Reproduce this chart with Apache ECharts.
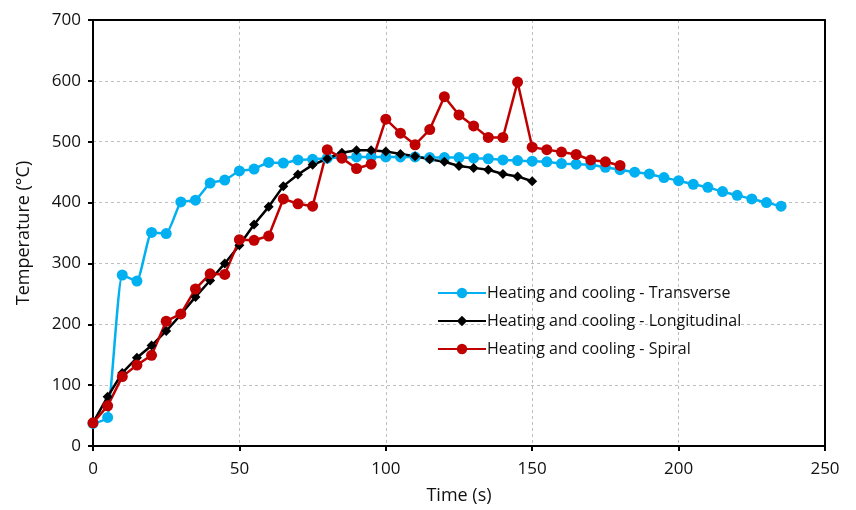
<!DOCTYPE html>
<html>
<head>
<meta charset="utf-8">
<script src="https://cdn.jsdelivr.net/npm/echarts@6/dist/echarts.min.js"></script>
<style>
html,body{margin:0;padding:0;background:#fff;}
#c{width:856px;height:510px;}
</style>
</head>
<body>
<div id="c"></div>
<script>
var timeTransverse = [0,5,10,15,20,25,30,35,40,45,50,55,60,65,70,75,80,85,90,95,100,105,110,115,120,125,130,135,140,145,150,155,160,165,170,175,180,185,190,195,200,205,210,215,220,225,230,235];
var tempTransverse = [37,47,281,271,351,349,401,404,432,437,452,455,466,465,470,471,473,474,475,475,475,475,475,474,474,474,473,472,470,469,468,467,464,463,462,458,454,450,447,441,436,430,425,418,412,406,400,394];
var timeLongitudinal = [0,5,10,15,20,25,30,35,40,45,50,55,60,65,70,75,80,85,90,95,100,105,110,115,120,125,130,135,140,145,150];
var tempLongitudinal = [38,81,120,145,165,189,216,245,272,300,330,364,393,427,446,462,472,482,486,486,484,480,476,471,467,460,457,454,447,443,435];
var timeSpiral = [0,5,10,15,20,25,30,35,40,45,50,55,60,65,70,75,80,85,90,95,100,105,110,115,120,125,130,135,140,145,150,155,160,165,170,175,180];
var tempSpiral = [38,66,114,133,149,205,217,258,283,282,339,338,345,406,398,394,487,473,456,463,537,514,495,520,574,544,526,507,507,598,491,487,483,479,470,467,461];
var seriesNames = ['Heating and cooling - Transverse','Heating and cooling - Longitudinal','Heating and cooling - Spiral'];
var xTitle = 'Time (s)';
var yTitle = 'Temperature (°C)';

function pairs(xs, ys){ return xs.map(function(x,i){ return [x, ys[i]]; }); }

var font = 'Open Sans, Liberation Sans, sans-serif';
var txt = '#111';
var chart = echarts.init(document.getElementById('c'), null, {renderer:'canvas'});
var frameAxis = {
  axisLine:{show:true,onZero:false,lineStyle:{color:'#000',width:2}},
  axisTick:{show:false},axisLabel:{show:false},splitLine:{show:false}
};
chart.setOption({
  animation:false,
  backgroundColor:'#fff',
  grid:{left:93,right:31,top:20,bottom:63},
  legend:{
    orient:'vertical',left:432,top:280,itemWidth:48,itemHeight:13,itemGap:12,
    textStyle:{fontFamily:font,fontSize:16,color:txt,padding:[0,0,0,-4]},
    data:seriesNames
  },
  xAxis:[{
    type:'value',min:0,max:250,interval:50,
    name:xTitle,nameLocation:'middle',nameGap:41,
    nameTextStyle:{fontFamily:font,fontSize:18,color:txt},
    axisLine:{show:true,onZero:false,lineStyle:{color:'#000',width:2}},
    axisTick:{show:true,inside:false,length:5,lineStyle:{color:'#000',width:2}},
    axisLabel:{fontFamily:font,fontSize:17,color:txt,margin:15},
    splitLine:{show:true,lineStyle:{color:'#bfbfbf',type:[3,3],width:1}},
    z:3
  }, Object.assign({type:'value',min:0,max:250,position:'top',z:4}, frameAxis)],
  yAxis:[{
    type:'value',min:0,max:700,interval:100,
    name:yTitle,nameLocation:'middle',nameGap:60,nameRotate:90,
    nameTextStyle:{fontFamily:font,fontSize:18,color:txt},
    axisLine:{show:true,onZero:false,lineStyle:{color:'#000',width:2}},
    axisTick:{show:true,inside:false,length:5,lineStyle:{color:'#000',width:2}},
    axisLabel:{fontFamily:font,fontSize:17,color:txt,margin:12},
    splitLine:{show:true,lineStyle:{color:'#bfbfbf',type:[3,3],width:1}},
    z:3
  }, Object.assign({type:'value',min:0,max:700,position:'right',z:4}, frameAxis)],
  series:[
    {name:seriesNames[0],type:'line',data:pairs(timeTransverse,tempTransverse),smooth:0.15,
     symbol:'circle',symbolSize:11,color:'#00B0F0',lineStyle:{width:2.5,color:'#00B0F0'},itemStyle:{color:'#00B0F0'}},
    {name:seriesNames[1],type:'line',data:pairs(timeLongitudinal,tempLongitudinal),
     symbol:'diamond',symbolSize:10,color:'#000',lineStyle:{width:2.5,color:'#000'},itemStyle:{color:'#000'}},
    {name:seriesNames[2],type:'line',data:pairs(timeSpiral,tempSpiral),
     symbol:'circle',symbolSize:11,color:'#C00000',lineStyle:{width:2.5,color:'#C00000'},itemStyle:{color:'#C00000'}}
  ]
});
</script>
</body>
</html>
